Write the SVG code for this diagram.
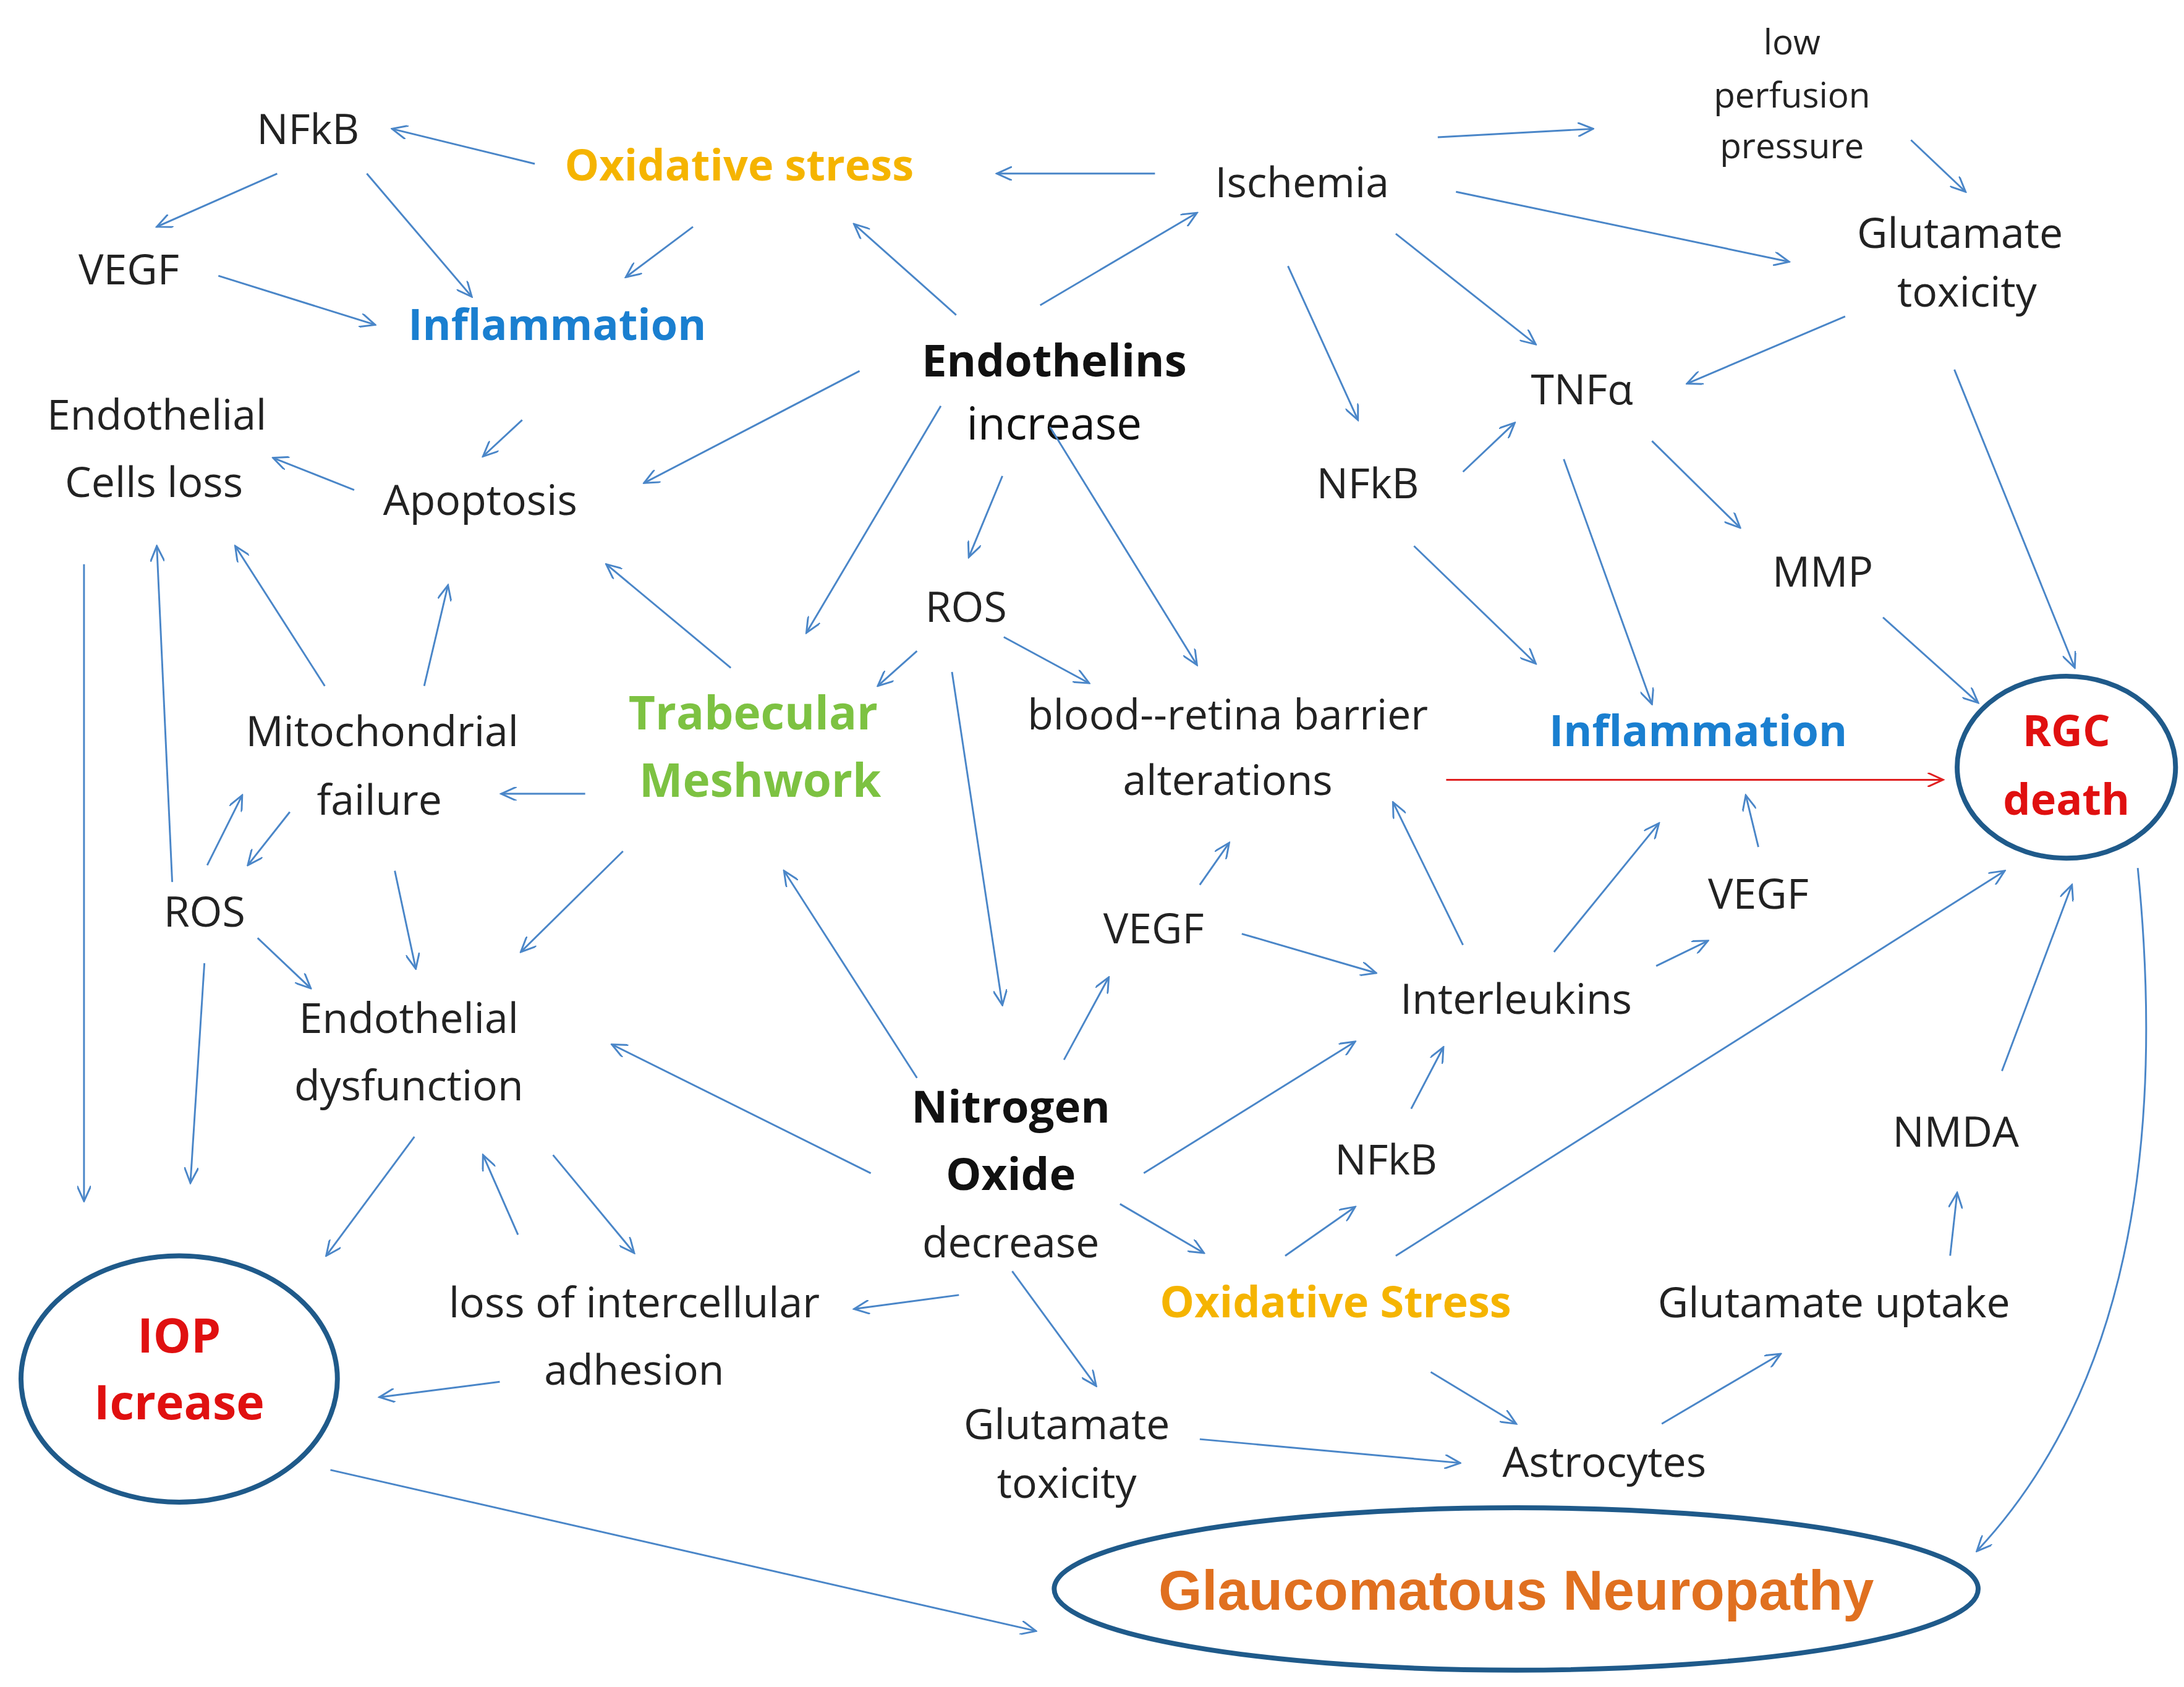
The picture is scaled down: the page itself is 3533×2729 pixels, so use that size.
<svg xmlns="http://www.w3.org/2000/svg" width="3533" height="2729" viewBox="0 0 3533 2729">
<defs>
<marker id="a" viewBox="0 0 12 10" refX="11" refY="5" markerWidth="12" markerHeight="10" markerUnits="userSpaceOnUse" orient="auto"><path d="M0,0 L11,5 L0,10" fill="none" stroke="#4a86c8" stroke-width="1.3"/></marker>
<marker id="r" viewBox="0 0 12 10" refX="11" refY="5" markerWidth="12" markerHeight="10" markerUnits="userSpaceOnUse" orient="auto"><path d="M0,0 L11,5 L0,10" fill="none" stroke="#e02020" stroke-width="1.3"/></marker>
<style>
text{font-family:"Open Sans","Liberation Sans",sans-serif;font-size:30px;fill:#222;text-anchor:middle}
.b{font-weight:bold;font-size:32px;fill:#111}
.o{font-weight:bold;font-size:31px;fill:#f5b400}
.bl{font-weight:bold;font-size:31px;fill:#1a7fd0}
.g{font-weight:bold;font-size:33px;fill:#7dc242}
.rd{font-weight:bold;font-size:31px;fill:#e01010}
.s{font-size:25px}
.gn{font-weight:bold;font-size:40px;fill:#e07020;font-family:"Liberation Sans",sans-serif}
#conn line,#conn path{stroke:#4a86c8;stroke-width:1.3;fill:none;marker-end:url(#a)}
ellipse{fill:none;stroke:#1f5a8a;stroke-width:3.5}
</style>
</defs>
<rect width="3533" height="2729" fill="#fff"/>
<g transform="scale(2.2647)">
<g id="nodes">
<g id="n1"><text x="220" y="103">NFkB</text></g>
<g id="n2"><text class="o" x="528" y="129">Oxidative stress</text></g>
<g id="n3"><text x="930" y="141">Ischemia</text></g>
<g id="n4"><text class="s" x="1280" y="39">low</text><text class="s" x="1280" y="77">perfusion</text><text class="s" x="1280" y="113">pressure</text></g>
<g id="n5"><text x="1400" y="177">Glutamate</text><text x="1405" y="219">toxicity</text></g>
<g id="n6"><text x="92" y="203">VEGF</text></g>
<g id="n7"><text class="bl" x="398" y="243">Inflammation</text></g>
<g id="n8"><text class="b" x="753" y="269">Endothelins</text><text class="b" x="753" y="314" style="font-weight:normal;fill:#111">increase</text></g>
<g id="n9"><text x="112" y="307">Endothelial</text><text x="110" y="355">Cells loss</text></g>
<g id="n10"><text x="343" y="368">Apoptosis</text></g>
<g id="n11"><text x="1130" y="289">TNFα</text></g>
<g id="n12"><text x="977" y="356">NFkB</text></g>
<g id="n13"><text x="1302" y="419">MMP</text></g>
<g id="n14"><text x="690" y="444">ROS</text></g>
<g id="n15"><text x="273" y="533">Mitochondrial</text><text x="271" y="582">failure</text></g>
<g id="n16"><text class="g" x="538" y="521">Trabecular</text><text class="g" x="543" y="569">Meshwork</text></g>
<g id="n17"><text x="877" y="521">blood--retina barrier</text><text x="877" y="568">alterations</text></g>
<g id="n18"><text class="bl" x="1213" y="533">Inflammation</text></g>
<g id="n19"><ellipse cx="1476" cy="548" rx="78" ry="65"/><text class="rd" x="1476" y="533">RGC</text><text class="rd" x="1476" y="582">death</text></g>
<g id="n20"><text x="146" y="662">ROS</text></g>
<g id="n21"><text x="824" y="674">VEGF</text></g>
<g id="n22"><text x="1256" y="649">VEGF</text></g>
<g id="n23"><text x="292" y="738">Endothelial</text><text x="292" y="786">dysfunction</text></g>
<g id="n24"><text x="1083" y="724">Interleukins</text></g>
<g id="n25"><text class="b" x="722" y="802">Nitrogen</text><text class="b" x="722" y="850">Oxide</text><text x="722" y="898">decrease</text></g>
<g id="n26"><text x="990" y="839">NFkB</text></g>
<g id="n27"><text x="1397" y="819">NMDA</text></g>
<g id="n28"><ellipse cx="128" cy="985" rx="113" ry="88"/><text class="rd" x="128" y="966" style="font-size:34px">IOP</text><text class="rd" x="128" y="1014" style="font-size:34px">Icrease</text></g>
<g id="n29"><text x="453" y="941">loss of intercellular</text><text x="453" y="989">adhesion</text></g>
<g id="n30"><text class="o" x="954" y="941">Oxidative Stress</text></g>
<g id="n31"><text x="1310" y="941">Glutamate uptake</text></g>
<g id="n32"><text x="762" y="1028">Glutamate</text><text x="762" y="1070">toxicity</text></g>
<g id="n33"><text x="1146" y="1055">Astrocytes</text></g>
<g id="n34"><ellipse cx="1083" cy="1135" rx="330" ry="58"/><text class="gn" x="1083" y="1150">Glaucomatous  Neuropathy</text></g>
</g>
<g id="conn">
<line x1="382" y1="117" x2="280" y2="92"/>
<line x1="198" y1="124" x2="112" y2="162"/>
<line x1="262" y1="124" x2="337" y2="212"/>
<line x1="156" y1="197" x2="268" y2="232"/>
<line x1="495" y1="162" x2="447" y2="198"/>
<line x1="825" y1="124" x2="712" y2="124"/>
<line x1="1027" y1="98" x2="1138" y2="92"/>
<line x1="1365" y1="100" x2="1404" y2="137"/>
<line x1="1040" y1="137" x2="1278" y2="187"/>
<line x1="997" y1="167" x2="1097" y2="246"/>
<line x1="920" y1="190" x2="970" y2="300"/>
<line x1="683" y1="225" x2="610" y2="160"/>
<line x1="743" y1="218" x2="855" y2="152"/>
<line x1="614" y1="265" x2="460" y2="345"/>
<line x1="672" y1="290" x2="576" y2="452"/>
<line x1="716" y1="340" x2="692" y2="398"/>
<line x1="750" y1="305" x2="855" y2="475"/>
<line x1="1318" y1="226" x2="1205" y2="274"/>
<line x1="1396" y1="264" x2="1482" y2="477"/>
<line x1="1045" y1="337" x2="1082" y2="302"/>
<line x1="1180" y1="315" x2="1243" y2="377"/>
<line x1="1117" y1="328" x2="1180" y2="503"/>
<line x1="1010" y1="390" x2="1097" y2="474"/>
<line x1="1345" y1="441" x2="1413" y2="502"/>
<line x1="373" y1="300" x2="345" y2="326"/>
<line x1="253" y1="350" x2="195" y2="327"/>
<line x1="60" y1="403" x2="60" y2="858"/>
<line x1="123" y1="630" x2="112" y2="390"/>
<line x1="232" y1="490" x2="168" y2="390"/>
<line x1="303" y1="490" x2="320" y2="418"/>
<line x1="522" y1="477" x2="433" y2="403"/>
<line x1="655" y1="465" x2="627" y2="490"/>
<line x1="717" y1="455" x2="778" y2="488"/>
<line x1="680" y1="480" x2="716" y2="718"/>
<line x1="418" y1="567" x2="358" y2="567"/>
<line x1="148" y1="618" x2="173" y2="568"/>
<line x1="207" y1="580" x2="177" y2="618"/>
<line x1="184" y1="670" x2="222" y2="706"/>
<line x1="146" y1="688" x2="136" y2="845"/>
<line x1="282" y1="622" x2="297" y2="692"/>
<line x1="445" y1="608" x2="372" y2="680"/>
<line x1="655" y1="770" x2="560" y2="622"/>
<line x1="1033" y1="557" x2="1388" y2="557" style="stroke:#e02020;marker-end:url(#r)"/>
<line x1="760" y1="757" x2="792" y2="698"/>
<line x1="857" y1="632" x2="878" y2="602"/>
<line x1="887" y1="667" x2="983" y2="695"/>
<line x1="1045" y1="675" x2="995" y2="573"/>
<line x1="1110" y1="680" x2="1185" y2="588"/>
<line x1="1183" y1="690" x2="1220" y2="672"/>
<line x1="1256" y1="605" x2="1247" y2="568"/>
<line x1="622" y1="838" x2="437" y2="746"/>
<line x1="817" y1="838" x2="968" y2="744"/>
<line x1="1008" y1="792" x2="1031" y2="748"/>
<line x1="800" y1="860" x2="860" y2="895"/>
<line x1="918" y1="897" x2="968" y2="862"/>
<line x1="997" y1="897" x2="1432" y2="622"/>
<line x1="685" y1="925" x2="610" y2="935"/>
<line x1="723" y1="908" x2="783" y2="990"/>
<line x1="296" y1="812" x2="233" y2="897"/>
<line x1="370" y1="882" x2="345" y2="825"/>
<line x1="395" y1="825" x2="453" y2="895"/>
<line x1="357" y1="987" x2="271" y2="998"/>
<line x1="1022" y1="980" x2="1083" y2="1017"/>
<line x1="1187" y1="1017" x2="1272" y2="967"/>
<line x1="1393" y1="897" x2="1398" y2="852"/>
<line x1="1430" y1="765" x2="1480" y2="632"/>
<line x1="857" y1="1028" x2="1043" y2="1045"/>
<line x1="236" y1="1050" x2="740" y2="1165"/>
<path d="M1527,620 Q1560,950 1412,1108"/>
</g>
</g>
</svg>
